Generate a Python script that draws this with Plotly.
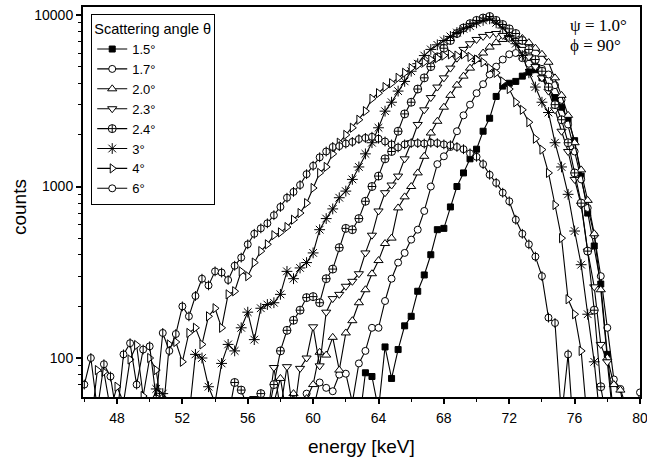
import plotly.graph_objects as go

energy = [46.0, 46.4, 46.8, 47.2, 47.6, 48.0, 48.4, 48.8, 49.2, 49.6,
          50.0, 50.4, 50.8, 51.2, 51.6, 52.0, 52.4, 52.8, 53.2, 53.6,
          54.0, 54.4, 54.8, 55.2, 55.6, 56.0, 56.4, 56.8, 57.2, 57.6,
          58.0, 58.4, 58.8, 59.2, 59.6, 60.0, 60.4, 60.8, 61.2, 61.6,
          62.0, 62.4, 62.8, 63.2, 63.6, 64.0, 64.4, 64.8, 65.2, 65.6,
          66.0, 66.4, 66.8, 67.2, 67.6, 68.0, 68.4, 68.8, 69.2, 69.6,
          70.0, 70.4, 70.8, 71.2, 71.6, 72.0, 72.4, 72.8, 73.2, 73.6,
          74.0, 74.4, 74.8, 75.2, 75.6, 76.0, 76.4, 76.8, 77.2, 77.6,
          78.0, 78.4, 78.8, 79.2, 79.6, 80.0]

counts_1_5 = [20, 20, 20, 20, 20, 20, 20, 20, 20, 20,
              20, 20, 20, 20, 20, 20, 20, 20, 20, 20,
              20, 20, 20, 20, 20, 20, 20, 20, 20, 20,
              25, 30, 25, 30, 35, 30, 35, 40, 35, 40,
              45, 40, 40, 82, 78, 50, 116, 76, 112, 154,
              175, 245, 305, 400, 560, 570, 760, 1000, 1200, 1450,
              1650, 2100, 2500, 3350, 3850, 4000, 4100, 4400, 4650, 4800,
              4300, 3800, 3300, 2900, 2450, 1850, 1150, 700, 450, 270,
              105, 45, 25, 20, 20, 20]

counts_1_7 = [20, 20, 20, 20, 20, 20, 20, 20, 20, 20,
              20, 20, 20, 20, 25, 20, 25, 30, 25, 30,
              30, 35, 30, 40, 35, 45, 40, 50, 45, 50,
              45, 40, 50, 45, 62, 50, 72, 67, 64, 80,
              81, 55, 93, 110, 150, 150, 215, 290, 360, 410,
              490, 560, 720, 1000, 1350, 1500, 1700, 2100, 2600, 3000,
              3500, 3950, 4500, 5000, 5500, 5900, 6000, 5600, 5200, 5000,
              4850, 4500, 3900, 3200, 2300, 1600, 1100, 750, 520, 300,
              150, 75, 66, 50, 45, 63]

counts_2_0 = [20, 20, 20, 20, 20, 20, 20, 20, 20, 20,
              20, 20, 25, 20, 25, 30, 25, 30, 30, 35,
              35, 30, 40, 35, 45, 40, 50, 45, 52, 55,
              76, 45, 62, 40, 58, 70, 108, 104, 132, 85,
              140, 165, 210, 250, 310, 370, 465, 500, 750, 870,
              1000, 1200, 1500, 2050, 2400, 2900, 3400, 3900, 4400, 4900,
              5500, 6000, 6500, 6900, 7200, 7400, 7500, 7300, 6900, 6400,
              5900, 5300, 4300, 3400, 2600, 1800, 1250, 830, 530, 250,
              100, 70, 65, 40, 30, 20]

counts_2_3 = [20, 20, 20, 20, 20, 20, 20, 20, 20, 20,
              20, 25, 20, 25, 30, 25, 30, 35, 30, 35,
              40, 35, 45, 40, 50, 45, 58, 55, 45, 88,
              50, 89, 45, 87, 100, 152, 90, 185, 222, 235,
              262, 280, 310, 410, 520, 720, 920, 1020, 1150, 1450,
              1800, 2300, 2800, 3300, 3800, 4300, 4900, 5600, 6300, 6800,
              7200, 7500, 7700, 7800, 7600, 7300, 6900, 6300, 5700, 5000,
              4300, 3600, 2800, 2100, 1600, 1100, 780, 420, 260, 120,
              95, 40, 30, 20, 20, 20]

counts_2_4 = [20, 20, 20, 20, 25, 20, 25, 30, 25, 30,
              25, 30, 25, 30, 35, 30, 40, 35, 40, 45,
              40, 50, 45, 72, 65, 50, 40, 62, 45, 70,
              110, 145, 166, 190, 225, 228, 210, 290, 330, 440,
              570, 560, 650, 820, 1000, 1150, 1450, 1600, 2100, 2650,
              3100, 3700, 4300, 5000, 5700, 6400, 7100, 7800, 8400, 8900,
              9300, 9600, 9800, 9300, 8800, 8300, 7800, 7100, 6300, 5500,
              4700, 3800, 3000, 2450, 1800, 1200, 800, 420, 190, 68,
              40, 25, 20, 20, 20, 20]

counts_3 = [30, 35, 30, 40, 35, 40, 45, 40, 50, 45,
            50, 66, 62, 40, 45, 38, 45, 105, 100, 68,
            55, 93, 120, 110, 150, 185, 128, 195, 205, 210,
            235, 320, 290, 335, 360, 410, 560, 650, 740, 860,
            940, 1100, 1300, 1550, 1800, 2200, 2750, 3100, 3600, 4100,
            4700, 5200, 5800, 6300, 6700, 7100, 7500, 7900, 8300, 8600,
            9000, 9300, 9500, 9000, 8400, 7600, 6800, 5800, 4600, 3800,
            3100, 2700, 1800, 1300, 900, 550, 350, 180, 95, 40,
            30, 20, 20, 20, 20, 20]

counts_4 = [55, 40, 85, 83, 50, 68, 55, 98, 119, 60,
            100, 85, 45, 120, 124, 95, 140, 150, 120, 175,
            195, 150, 235, 245, 320, 300, 360, 420, 460, 520,
            540, 580, 640, 700, 800, 980, 1200, 1300, 1550, 1800,
            2000, 2200, 2450, 2750, 3250, 3500, 3800, 4000, 4300, 4600,
            4900, 5100, 5300, 5500, 5600, 5800, 5900, 5800, 5900, 5700,
            5500, 5300, 4900, 4600, 4100, 3700, 3100, 2800, 2370, 1900,
            1640, 1200, 780, 500, 220, 180, 110, 40, 30, 20,
            20, 20, 20, 20, 20, 20]

counts_6 = [70, 100, 50, 92, 78, 45, 105, 122, 70, 112,
            117, 58, 140, 110, 138, 200, 175, 230, 290, 265,
            320, 315, 285, 345, 385, 460, 530, 570, 610, 680,
            760, 860, 930, 1020, 1180, 1320, 1480, 1600, 1700, 1720,
            1780, 1820, 1890, 1920, 1950, 1900, 1830, 1760, 1690, 1760,
            1790, 1790, 1780, 1800, 1790, 1760, 1740, 1700, 1650, 1560,
            1490, 1350, 1170, 1050, 920, 820, 640, 530, 460, 390,
            300, 172, 160, 45, 105, 30, 20, 20, 20, 20,
            20, 20, 20, 20, 20, 20]

labels = ["1.5°", "1.7°", "2.0°", "2.3°", "2.4°", "3°", "4°", "6°"]
series = [counts_1_5, counts_1_7, counts_2_0, counts_2_3,
          counts_2_4, counts_3, counts_4, counts_6]
symbols = ["square", "circle", "triangle-up", "triangle-down",
           "circle-cross", "asterisk-open", "triangle-right", "circle"]
fills = ["black", "white", "white", "white", "white", "black", "white", "white"]
sizes = [6, 7, 8, 8, 8, 9, 8, 7]

x_ticks = [48, 52, 56, 60, 64, 68, 72, 76, 80]
x_minor = [46, 50, 54, 58, 62, 66, 70, 74, 78]
y_ticks = [100, 1000, 10000]
y_minor = [70, 80, 90, 200, 300, 400, 500, 600, 700, 800, 900,
           2000, 3000, 4000, 5000, 6000, 7000, 8000, 9000]

fig = go.Figure()
for lab, vals, sym, fc, sz in zip(labels, series, symbols, fills, sizes):
    fig.add_trace(go.Scatter(
        x=energy, y=vals, mode="lines+markers", name=lab,
        line=dict(color="black", width=1.1),
        marker=dict(symbol=sym, size=sz, color=fc,
                    line=dict(color="black", width=1)),
    ))
# vertical bar inside the 6° circles
fig.add_trace(go.Scatter(
    x=energy, y=counts_6, mode="markers", showlegend=False,
    marker=dict(symbol="line-ns", size=7, color="black",
                line=dict(color="black", width=1)),
    hoverinfo="skip",
))

axis_common = dict(showline=True, linecolor="black", linewidth=2, mirror=True,
                   showgrid=False, zeroline=False, ticks="outside",
                   tickcolor="black", tickwidth=1.5, ticklen=5,
                   automargin=False, ticklabeloverflow="allow",
                   tickfont=dict(size=14, color="black"))

fig.update_layout(
    width=647, height=461,
    margin=dict(l=83, r=7, t=7, b=64, autoexpand=False),
    paper_bgcolor="white", plot_bgcolor="white",
    font=dict(family="Liberation Sans, Arial, sans-serif", size=14, color="black"),
    xaxis=dict(range=[45.92, 80.0], tickvals=x_ticks,
               minor=dict(tickvals=x_minor, ticks="outside", ticklen=3,
                          tickcolor="black", tickwidth=1.2),
               **axis_common),
    yaxis=dict(type="log", range=[1.7726, 4.0466], tickvals=y_ticks,
               ticktext=["100", "1000", "10000"],
               minor=dict(tickvals=y_minor, ticks="outside", ticklen=3,
                          tickcolor="black", tickwidth=1.2),
               **axis_common),
    legend=dict(x=0.0144, y=0.982, xanchor="left", yanchor="top",
                bgcolor="white", bordercolor="black", borderwidth=1.2,
                font=dict(size=13),
                title=dict(text="Scattering angle θ", font=dict(size=14.5)),
                tracegroupgap=0),
    annotations=[
        dict(text="energy [keV]", x=0.5, y=-0.128, xref="paper", yref="paper",
             xanchor="center", yanchor="middle", showarrow=False,
             font=dict(size=19)),
        dict(text="counts", x=-0.115, y=0.487, xref="paper", yref="paper",
             xanchor="center", yanchor="middle", showarrow=False, textangle=-90,
             font=dict(size=19)),
        dict(text="ψ = 1.0°", x=0.871, y=0.952, xref="paper", yref="paper",
             xanchor="left", yanchor="middle", showarrow=False,
             font=dict(family="Liberation Serif, Times New Roman, serif", size=17)),
        dict(text="ϕ = 90°", x=0.871, y=0.902, xref="paper", yref="paper",
             xanchor="left", yanchor="middle", showarrow=False,
             font=dict(family="Liberation Serif, Times New Roman, serif", size=17)),
    ],
)

try:
    fig.update_xaxes(ticklabelstandoff=2)
except Exception:
    pass

fig.write_html("out.html",
               config={"displayModeBar": False},
               post_script="document.body.style.margin='0px';"
                           "document.body.style.overflow='hidden';")
